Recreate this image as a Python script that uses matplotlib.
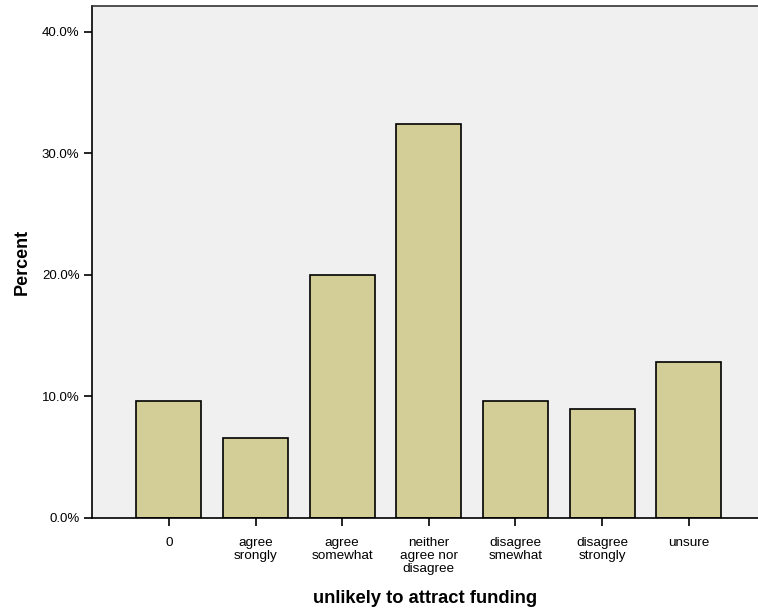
import numpy as np
import matplotlib.pyplot as plt
from matplotlib.ticker import FuncFormatter

# data ------------------------------------------------------------------

categories = ['0', 'agree\nsrongly', 'agree\nsomewhat', 'neither\nagree nor\ndisagree',
              'disagree\nsmewhat', 'disagree\nstrongly', 'unsure']
percents = [9.6, 6.6, 20.0, 32.4, 9.6, 9.0, 12.8]
y_ticks = [0, 10, 20, 30, 40]

# plot ------------------------------------------------------------------

plt.rcParams['font.family'] = ['Liberation Sans', 'DejaVu Sans']

fig = plt.figure(figsize=(7.58, 6.15), dpi=100)
ax = fig.add_axes([92 / 758, 97 / 615, 666 / 758, 512 / 615])
ax.set_facecolor('#f0f0f0')

x = np.arange(len(categories))
ax.bar(x, percents, width=0.75, color='#d3ce97', edgecolor='black', linewidth=1.2, zorder=2)

ax.set_xlim(-0.888, 6.8)
ax.set_ylim(0, 42.1)
ax.set_xticks(x)
ax.set_xticklabels(categories, fontsize=9.7, linespacing=1.06)
ax.set_yticks(y_ticks)
ax.yaxis.set_major_formatter(FuncFormatter(lambda v, p: '{:.1f}%'.format(v)))
ax.tick_params(axis='y', labelsize=9.5, length=6, width=1.2, pad=3)
ax.tick_params(axis='x', length=6, width=1.2, pad=8)

ax.spines['right'].set_visible(False)
for s in ['left', 'bottom', 'top']:
    ax.spines[s].set_linewidth(1.2)
ax.spines['top'].set_color('#333333')

ax.set_ylabel('Percent', fontsize=13, fontweight='bold', labelpad=8)
ax.set_xlabel('unlikely to attract funding', fontsize=13.2, fontweight='bold', labelpad=11)

plt.savefig('out.png', dpi=100)
